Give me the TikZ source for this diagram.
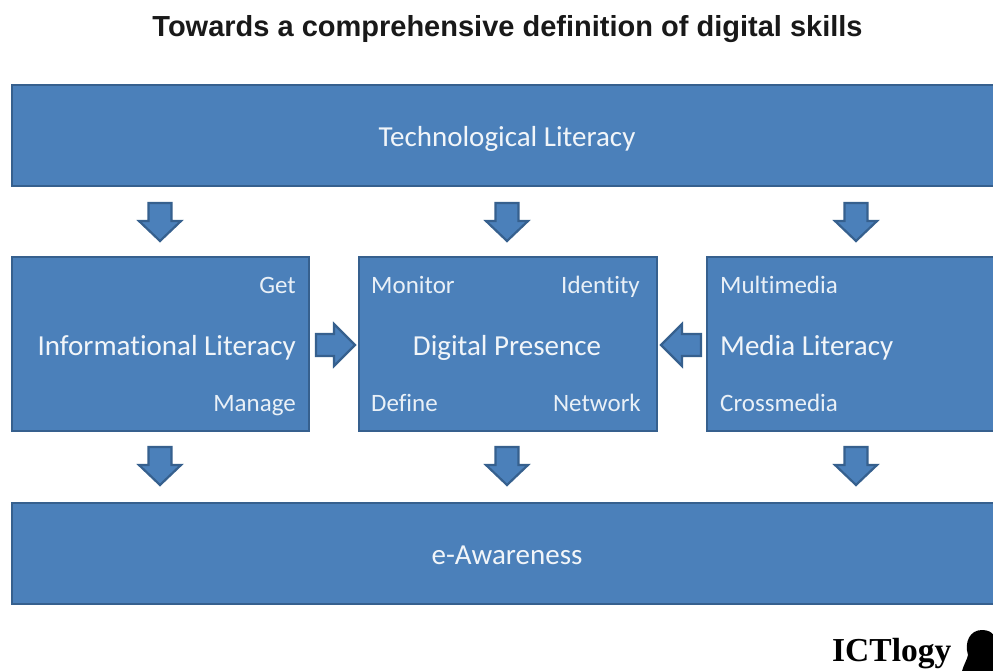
\documentclass[tikz,border=0pt]{standalone}
\usepackage{fontspec}
\setmainfont{Carlito}[Ligatures=NoCommon]
\newfontfamily\titlefont{Liberation Sans Bold}
\newfontfamily\logofont{Liberation Serif Bold}
\definecolor{fillb}{HTML}{4B80BA}
\definecolor{lineb}{HTML}{36608E}
\tikzset{
  x=1pt,y=-1pt,
  boxx/.style={draw=lineb,fill=fillb,line width=2.6pt,inner sep=0pt},
  big/.style={text=white!92!fillb,font=\fontsize{29}{32}\selectfont,inner sep=0pt,anchor=base},
  small/.style={text=white!88!fillb,font=\fontsize{25}{28}\selectfont,inner sep=0pt},
  arr/.style={draw=lineb,fill=fillb,line width=2.2pt,line join=miter},
}
\newcommand{\downarr}[2]{\draw[arr,shift={(#1,#2)}] (-11.5,0)--(11.5,0)--(11.5,18)--(21,18)--(0,38)--(-21,18)--(-11.5,18)--cycle;}
\begin{document}
\begin{tikzpicture}
\useasboundingbox[fill=white] (0,0) rectangle (993,671);
\begin{scope}
\clip (0,0) rectangle (993,671);
\node[anchor=base,font=\titlefont\fontsize{29}{32}\selectfont,text=black!90,inner sep=0pt] (title) at (507.5,37) {Towards a comprehensive definition of digital skills};
\path[boxx,draw] (12,85) rectangle (1010,186);
\node[big] (tech) at (507,147) {Technological Literacy};
\path[boxx,draw] (12,257) rectangle (309,431);
\path[boxx,draw] (359,257) rectangle (657,431);
\path[boxx,draw] (707,257) rectangle (1010,431);
\path[boxx,draw] (12,503) rectangle (1010,604);
\node[big] (ea) at (507,564) {e-Awareness};
\node[small,anchor=base east] (get) at (296,293) {Get};
\node[big,anchor=base east] (info) at (296,355) {Informational Literacy};
\node[small,anchor=base east] (manage) at (296,411) {Manage};
\node[small,anchor=base west] (mon) at (371,293) {Monitor};
\node[small,anchor=base east] (id) at (640,293) {Identity};
\node[big] (dp) at (507,355) {Digital Presence};
\node[small,anchor=base west] (def) at (371,411) {Define};
\node[small,anchor=base east] (net) at (641,411) {Network};
\node[small,anchor=base west] (mm) at (720,293) {Multimedia};
\node[big,anchor=base west] (ml) at (720,355) {Media Literacy};
\node[small,anchor=base west] (cm) at (720,411) {Crossmedia};
\downarr{160}{203}\downarr{507}{203}\downarr{856}{203}
\downarr{160}{447}\downarr{507}{447}\downarr{856}{447}
\draw[arr] (316,334)--(334,334)--(334,324)--(355,345)--(334,366)--(334,356)--(316,356)--cycle;
\draw[arr] (701,334)--(682,334)--(682,324)--(661,345)--(682,366)--(682,356)--(701,356)--cycle;
\node[anchor=base west,font=\logofont\fontsize{33.5}{35}\selectfont,inner sep=0pt] (logo) at (832,661) {ICTlogy};
\fill[black] (962,671) .. controls (964,664) and (967,660) .. (968,655) .. controls (964,642) and (970,630) .. (982,630) .. controls (988,630) and (992,632) .. (994,636) -- (994,671) -- cycle;
\end{scope}
\end{tikzpicture}
\end{document}
